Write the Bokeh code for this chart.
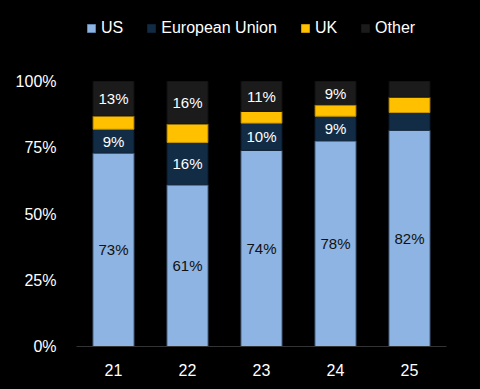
from bokeh.plotting import figure
from bokeh.models import ColumnDataSource, Legend, LegendItem, NumeralTickFormatter, FixedTicker, Range1d, FactorRange, LabelSet
from bokeh.core.properties import value
from bokeh.embed import file_html
from bokeh.resources import INLINE

years = ["21", "22", "23", "24", "25"]
us = [73, 61, 74, 77.6, 81.6]
eu = [9, 16, 10.3, 9.3, 6.7]
uk = [5, 7, 4.4, 4.3, 5.8]
other = [13, 16, 11.3, 8.8, 5.9]
show_small = [True, True, True, True, False]
series = ["US", "European Union", "UK", "Other"]
colors = ["#8DB4E2", "#132C45", "#FFC000", "#1B1B1B"]
y_ticks = [0, 0.25, 0.5, 0.75, 1.0]

FONT = "Liberation Sans"

src = ColumnDataSource(dict(
    x=years,
    us=[v / 100 for v in us],
    eu=[v / 100 for v in eu],
    uk=[v / 100 for v in uk],
    other=[v / 100 for v in other],
))

p = figure(width=480, height=389, x_range=FactorRange(*years, range_padding=0),
           y_range=Range1d(0, 1 + 81 / 265), output_backend="svg", toolbar_location=None,
           background_fill_color="black", border_fill_color="black",
           outline_line_color=None,
           min_border_left=76, min_border_right=34, min_border_top=0, min_border_bottom=43)
p.styles = {"background-color": "black"}
p.grid.visible = False

rs = p.vbar_stack(["us", "eu", "uk", "other"], x="x", width=0.55, color=colors,
                  line_color=["#5f84ad", "#0e2236", "#c79600", "#151515"], line_width=1, source=src)

us_mid = [u / 200 for u in us]
eu_mid = [(u + e / 2) / 100 for u, e in zip(us, eu)]
ot_mid = [(u + e + k + o / 2) / 100 for u, e, k, o in zip(us, eu, uk, other)]
lab_src = ColumnDataSource(dict(
    x=years,
    us_y=us_mid, us_t=[f"{v:.0f}%" for v in us],
    eu_y=eu_mid, eu_t=[f"{v:.0f}%" if s else "" for v, s in zip(eu, show_small)],
    ot_y=ot_mid, ot_t=[f"{v:.0f}%" if s else "" for v, s in zip(other, show_small)],
))
for ycol, tcol, col in [("us_y", "us_t", "#111111"), ("eu_y", "eu_t", "white"), ("ot_y", "ot_t", "white")]:
    p.add_layout(LabelSet(x="x", y=ycol, text=tcol, source=lab_src, text_align="center",
                          text_baseline="middle", text_color=col, text_font=value(FONT),
                          text_font_size="15px"))

p.yaxis.ticker = FixedTicker(ticks=y_ticks)
p.yaxis.formatter = NumeralTickFormatter(format="0%")
p.yaxis.axis_line_color = None
p.yaxis.major_tick_line_color = None
p.yaxis.minor_tick_line_color = None
p.yaxis.major_label_text_color = "white"
p.yaxis.major_label_text_font = FONT
p.yaxis.major_label_text_font_size = "16px"
p.yaxis.major_label_standoff = 14

p.xaxis.axis_line_color = "#333333"
p.xaxis.axis_line_width = 1
p.xaxis.major_tick_line_color = None
p.xaxis.minor_tick_line_color = None
p.xaxis.major_label_text_color = "white"
p.xaxis.major_label_text_font = FONT
p.xaxis.major_label_text_font_size = "16px"
p.xaxis.major_label_standoff = 11

legend = Legend(items=[LegendItem(label=s, renderers=[r]) for s, r in zip(series, rs)],
                orientation="horizontal", location=(10, 309),
                background_fill_alpha=0, border_line_color=None,
                label_text_color="white", label_text_font=FONT, label_text_font_size="16px",
                glyph_width=10, glyph_height=10, label_standoff=5, spacing=23,
                padding=0, margin=0)
p.add_layout(legend, "center")

open("out.html", "w").write(file_html(p, INLINE))
